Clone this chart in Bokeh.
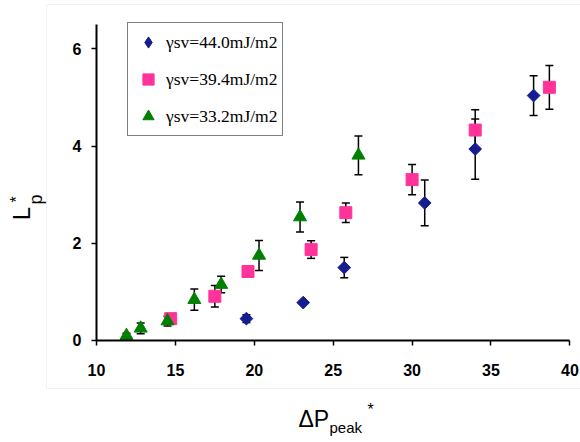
from math import pi
from bokeh.plotting import figure
from bokeh.models import (ColumnDataSource, Whisker, TeeHead, Legend, LegendItem,
                          Range1d, FixedTicker, Label, BoxAnnotation)
from bokeh.embed import file_html
from bokeh.resources import INLINE

# ---- data ----
dp_44 = [19.5, 23.1, 25.7, 30.8, 34.0, 37.7]
lp_44 = [0.45, 0.78, 1.50, 2.83, 3.94, 5.04]
err_44 = [0.08, 0.03, 0.21, 0.47, 0.62, 0.41]

dp_39 = [14.7, 17.5, 19.6, 23.6, 25.8, 30.0, 34.0, 38.7]
lp_39 = [0.45, 0.91, 1.42, 1.87, 2.63, 3.31, 4.33, 5.21]
err_39 = [0.05, 0.22, 0.05, 0.18, 0.20, 0.31, 0.42, 0.45]

dp_33 = [11.9, 12.8, 14.5, 16.2, 17.9, 20.3, 22.9, 26.6]
lp_33 = [0.10, 0.25, 0.40, 0.84, 1.15, 1.75, 2.54, 3.81]
err_33 = [0.05, 0.11, 0.10, 0.22, 0.17, 0.31, 0.31, 0.40]

labels = ["\u03b3sv=44.0mJ/m2", "\u03b3sv=39.4mJ/m2", "\u03b3sv=33.2mJ/m2"]
x_ticks = [10, 15, 20, 25, 30, 35, 40]
y_ticks = [0, 2, 4, 6]

BLUE, PINK, GREEN = "#161D91", "#FF3399", "#008000"

W, H = 580, 442
p = figure(width=W, height=H, output_backend="svg", toolbar_location=None,
           x_range=Range1d(3.9164, 40.672), y_range=Range1d(-2.0988, 6.9959),
           min_border_left=0, min_border_right=0, min_border_top=0,
           min_border_bottom=0)
p.title.visible = False
p.xgrid.visible = False
p.ygrid.visible = False
p.outline_line_color = None
p.background_fill_color = "white"
p.border_fill_color = "white"

# light grey plot-area border (screen units)
p.add_layout(BoxAnnotation(left=46, right=W + 20, top=H - 4, bottom=H - 388,
                           left_units="screen", right_units="screen",
                           top_units="screen", bottom_units="screen",
                           fill_alpha=0, line_color="#d4d4d4", line_width=1,
                           level="underlay"))

for ax in (p.xaxis[0], p.yaxis[0]):
    ax.axis_line_width = 2
    ax.axis_line_color = "black"
    ax.major_tick_line_width = 1.5
    ax.major_tick_line_color = "black"
    ax.major_tick_in = 0
    ax.major_tick_out = 5
    ax.minor_tick_line_color = None
    ax.major_label_text_font = "Liberation Sans"
    ax.major_label_text_font_style = "bold"
    ax.major_label_text_font_size = "16px"
    ax.major_label_text_color = "black"

p.xaxis.fixed_location = 0
p.yaxis.fixed_location = 10
p.xaxis.bounds = (10, 40)
p.yaxis.bounds = (0, 6.5)
p.xaxis.ticker = FixedTicker(ticks=x_ticks)
p.yaxis.ticker = FixedTicker(ticks=y_ticks)
p.xaxis.major_label_standoff = 19
p.yaxis.major_label_standoff = 10


def add_series(xs, ys, es, marker, size, color, angle=0.0):
    src = ColumnDataSource(dict(x=xs, y=ys,
                                lo=[y - e for y, e in zip(ys, es)],
                                hi=[y + e for y, e in zip(ys, es)]))
    w = Whisker(source=src, base="x", upper="hi", lower="lo", dimension="height",
                line_color="black", line_width=1.5, level="underlay",
                upper_head=TeeHead(size=8, line_width=1.5, line_color="black"),
                lower_head=TeeHead(size=8, line_width=1.5, line_color="black"))
    p.add_layout(w)
    r = p.scatter(x="x", y="y", source=src, marker=marker, size=size, angle=angle,
                  fill_color=color, line_color=color, line_width=1)
    return r


r44 = add_series(dp_44, lp_44, err_44, "square", 9, BLUE, angle=pi / 4)
r39 = add_series(dp_39, lp_39, err_39, "square", 12, PINK)
r33 = add_series(dp_33, lp_33, err_33, "triangle", 13, GREEN)

# legend swatch for the diamond series (legend ignores marker angle);
# a NaN point draws nothing in the plot itself
nan = float("nan")
r44_key = p.scatter(x=[nan], y=[nan], marker="diamond", fill_color=BLUE,
                    line_color=BLUE)

legend = Legend(items=[LegendItem(label=labels[0], renderers=[r44_key]),
                       LegendItem(label=labels[1], renderers=[r39]),
                       LegendItem(label=labels[2], renderers=[r33])],
                location=(127, 306))
legend.glyph_width = 30
legend.glyph_height = 28
legend.label_height = 28
legend.spacing = 9
legend.padding = 5
legend.margin = 0
legend.label_standoff = 3
legend.border_line_color = "black"
legend.border_line_width = 1.5
legend.background_fill_color = "white"
legend.background_fill_alpha = 1
legend.label_text_font = "Liberation Serif"
legend.label_text_font_size = "17.5px"
legend.label_text_color = "black"
p.add_layout(legend)

# axis titles (with sub/superscripts), screen units from bottom-left
font = "Liberation Sans"


def title_part(x, y, text, size, angle=0.0, align="left"):
    p.add_layout(Label(x=x, y=y, x_units="screen", y_units="screen", text=text,
                       angle=angle, text_font=font, text_font_size=size,
                       text_align=align, text_baseline="middle",
                       text_color="black"))


title_part(298, H - 418, "\u0394P", "23px")
title_part(329, H - 427, "peak", "15px")
title_part(367, H - 409, "*", "16px")

title_part(21, H - 213, "L", "24px", angle=pi / 2, align="center")
title_part(35, H - 199, "p", "18px", angle=pi / 2, align="center")
title_part(16, H - 199, "*", "16px", angle=pi / 2, align="center")

open("out.html", "w").write(file_html(p, INLINE))
